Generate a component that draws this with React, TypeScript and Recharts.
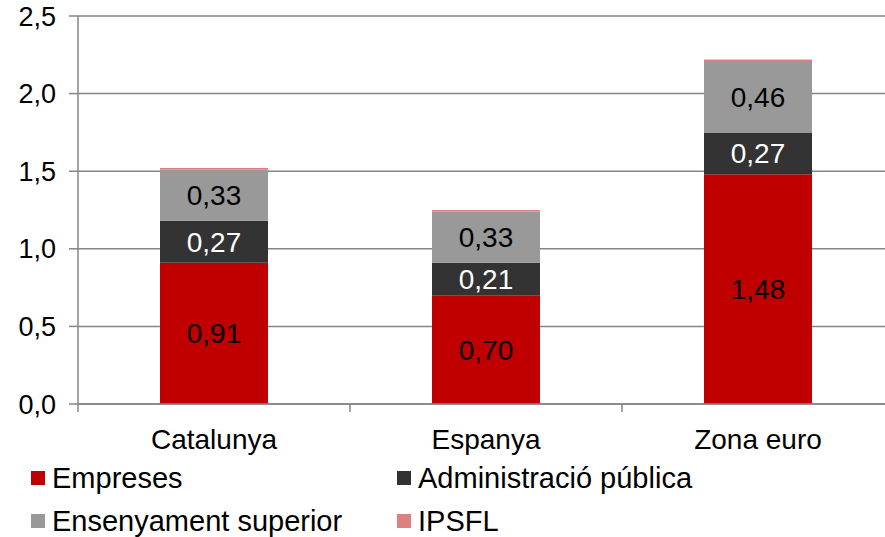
import React from 'react';
import { BarChart, Bar, XAxis, YAxis, CartesianGrid, LabelList } from 'recharts';

const categories = ['Catalunya', 'Espanya', 'Zona euro'];
const empreses = [0.91, 0.7, 1.48];
const administracio = [0.27, 0.21, 0.27];
const ensenyament = [0.33, 0.33, 0.46];
const ipsfl = [0.01, 0.01, 0.01];
const yTicks = [0, 0.5, 1, 1.5, 2, 2.5];

const series = [
  { key: 'empreses', name: 'Empreses', color: '#C00000', labelColor: '#000000', values: empreses, label: true },
  { key: 'administracio', name: 'Administració pública', color: '#333333', labelColor: '#FFFFFF', values: administracio, label: true },
  { key: 'ensenyament', name: 'Ensenyament superior', color: '#999999', labelColor: '#000000', values: ensenyament, label: true },
  { key: 'ipsfl', name: 'IPSFL', color: '#E07F7F', labelColor: '#000000', values: ipsfl, label: false },
];

const data = categories.map((name, i) => {
  const row: any = { name };
  series.forEach((s) => {
    row[s.key] = s.values[i];
  });
  return row;
});

const FONT = '"Liberation Sans", Arial, sans-serif';
const GRID = '#868686';
const CHART_W = 910;
const CHART_H = 537;
const MARGIN = { top: 16, right: 16, bottom: 103, left: 0 };
const Y_W = 78;
const BAND = (CHART_W - MARGIN.right - MARGIN.left - Y_W) / categories.length;

const fmt = (v: any) => Number(v).toFixed(2).replace('.', ',');
const fmtY = (v: any) => Number(v).toFixed(1).replace('.', ',');

const XTick = (props: any) => {
  const { x, y, payload, index } = props;
  const top = y - 8;
  return (
    <g>
      <line x1={x - BAND / 2} x2={x - BAND / 2} y1={top} y2={top + 8} stroke={GRID} strokeWidth={1.5} />
      {index === categories.length - 1 && (
        <line x1={x + BAND / 2} x2={x + BAND / 2} y1={top} y2={top + 8} stroke={GRID} strokeWidth={1.5} />
      )}
      <text x={x} y={top + 25} dy="0.71em" textAnchor="middle" fontSize={28} fontFamily={FONT} fill="#000">
        {payload.value}
      </text>
    </g>
  );
};

export default function App() {
  return (
    <div style={{ position: 'fixed', left: 0, top: 0, width: 885, height: 537, overflow: 'hidden', background: '#fff' }}>
      <BarChart width={CHART_W} height={CHART_H} data={data} margin={MARGIN} barSize={108}>
        <CartesianGrid vertical={false} stroke={GRID} strokeWidth={1.5} />
        <XAxis
          dataKey="name"
          height={30}
          interval={0}
          tickSize={8}
          tickMargin={0}
          tickLine={false}
          axisLine={{ stroke: GRID, strokeWidth: 1.5 }}
          tick={<XTick />}
        />
        <YAxis
          width={Y_W}
          domain={[0, 2.5]}
          ticks={yTicks}
          interval={0}
          tickSize={9}
          tickMargin={13}
          tickFormatter={fmtY}
          axisLine={{ stroke: GRID, strokeWidth: 1.5 }}
          tickLine={{ stroke: GRID, strokeWidth: 1.5 }}
          tick={{ fontSize: 27, fontFamily: FONT, fill: '#000' }}
        />
        {series.map((s) => (
          <Bar key={s.key} dataKey={s.key} name={s.name} stackId="a" fill={s.color} isAnimationActive={false}>
            {s.label && (
              <LabelList
                dataKey={s.key}
                position="center"
                formatter={fmt}
                fill={s.labelColor}
                fontSize={28}
                fontFamily={FONT}
              />
            )}
          </Bar>
        ))}
      </BarChart>
      {series.map((s, i) => {
        const col = i % 2;
        const row = Math.floor(i / 2);
        return (
          <div
            key={s.key}
            style={{
              position: 'absolute',
              left: col === 0 ? 31 : 397,
              top: 464 + row * 43,
              height: 28,
              display: 'flex',
              alignItems: 'center',
              fontFamily: FONT,
              fontSize: 29,
              color: '#000',
              whiteSpace: 'nowrap',
            }}
          >
            <span style={{ display: 'inline-block', width: 14, height: 14, background: s.color, marginRight: 7 }} />
            <span>{s.name}</span>
          </div>
        );
      })}
    </div>
  );
}
